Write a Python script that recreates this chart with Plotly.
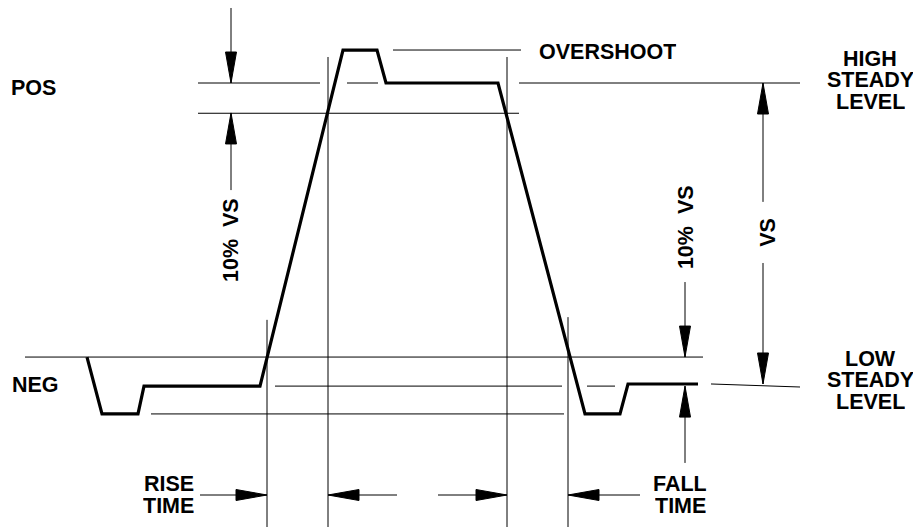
import plotly.graph_objects as go

# ---------------- data (time units, volts relative to low level; VS = 10) ----------------
# waveform
wave_t = [8.7, 10.2, 13.8, 14.4, 26.0, 34.3, 37.7, 38.6, 49.8, 58.5, 62.0, 62.8, 69.8]
wave_v = [0.94, -0.94, -0.94, -0.02, -0.02, 11.09, 11.09, 10.0, 10.0, -0.94, -0.94, 0.05, 0.05]

# horizontal reference segments: (t_start, t_end, level)
h_t0 = [2.5, 27.5, 58.7, 15.1, 39.3, 19.8, 34.7, 51.9, 19.8]
h_t1 = [70.3, 56.2, 61.5, 56.4, 52.1, 32.0, 37.8, 80.0, 51.9]
h_v = [0.94, -0.02, -0.02, -0.94, 11.09, 10.0, 10.0, 10.0, 9.0]
# slanted low-steady reference on the right
low_ref_t = [71.1, 80.0]
low_ref_v = [0.05, -0.05]

# vertical reference lines: (time, top, bottom)
v_t = [26.7, 32.8, 50.7, 56.8]
v_top = [2.17, 10.86, 10.86, 2.26]
v_bot = [-4.68, -4.68, -4.68, -4.68]

# dimension arrows: tail -> tip
arr_t0 = [23.1, 23.1, 68.5, 68.5, 76.3, 76.3, 20.0, 39.7, 43.8, 64.0]
arr_v0 = [12.48, 6.46, 3.42, -2.56, 6.07, 4.05, -3.62, -3.62, -3.62, -3.62]
arr_t1 = [23.1, 23.1, 68.5, 68.5, 76.3, 76.3, 26.7, 32.8, 50.7, 56.8]
arr_v1 = [10.0, 9.01, 0.94, -0.02, 10.0, 0.05, -3.62, -3.62, -3.62, -3.62]

# labels
lab_text = ["POS", "NEG", "OVERSHOOT", "HIGH", "STEADY", "LEVEL", "LOW", "STEADY", "LEVEL",
            "RISE", "TIME", "FALL", "TIME", "10%&nbsp; VS", "10%&nbsp; VS", "VS"]
lab_t = [3.35, 3.5, 60.75, 87.0, 87.0, 87.0, 87.0, 87.0, 87.0,
         16.85, 16.85, 68.0, 68.0, 23.1, 68.55, 76.8]
lab_v = [9.85, 0.0, 11.04, 10.81, 10.10, 9.37, 0.87, 0.18, -0.55,
         -3.26, -3.98, -3.26, -3.98, 4.81, 5.22, 5.05]
lab_angle = [0, 0, 0, 0, 0, 0, 0, 0, 0, 0, 0, 0, 0, -90, -90, -90]

# ---------------- figure ----------------
W, H = 913, 527
x_range = [0, 91.3]
y_range = [-4.678, 12.744]
px_x = W / (x_range[1] - x_range[0])
px_y = H / (y_range[1] - y_range[0])

fig = go.Figure()

thin = dict(color="black", width=1)
for a, b, v in zip(h_t0, h_t1, h_v):
    fig.add_trace(go.Scatter(x=[a, b], y=[v, v], mode="lines", line=thin, hoverinfo="skip"))
fig.add_trace(go.Scatter(x=low_ref_t, y=low_ref_v, mode="lines", line=thin, hoverinfo="skip"))
for t, a, b in zip(v_t, v_top, v_bot):
    fig.add_trace(go.Scatter(x=[t, t], y=[a, b], mode="lines", line=thin, hoverinfo="skip"))

head_len = 31.0   # px
head_half = 5.5   # px
for t0, v0, t1, v1 in zip(arr_t0, arr_v0, arr_t1, arr_v1):
    fig.add_trace(go.Scatter(x=[t0, t1], y=[v0, v1], mode="lines", line=thin, hoverinfo="skip"))
    dx = (t1 - t0) * px_x
    dy = (v1 - v0) * px_y
    L = (dx * dx + dy * dy) ** 0.5
    ux, uy = dx / L, dy / L
    bx, by = -ux * head_len, -uy * head_len
    nx, ny = -uy * head_half, ux * head_half
    xs = [t1, t1 + (bx + nx) / px_x, t1 + (bx - nx) / px_x, t1]
    ys = [v1, v1 + (by + ny) / px_y, v1 + (by - ny) / px_y, v1]
    fig.add_trace(go.Scatter(x=xs, y=ys, mode="lines", fill="toself", fillcolor="black",
                             line=dict(color="black", width=1), hoverinfo="skip"))

fig.add_trace(go.Scatter(x=wave_t, y=wave_v, mode="lines",
                         line=dict(color="black", width=3.2), hoverinfo="skip"))

for txt, t, v, ang in zip(lab_text, lab_t, lab_v, lab_angle):
    extra = {}
    if ang == 0:
        extra["height"] = 20
    fig.add_annotation(x=t, y=v, xref="x", yref="y", text=txt, showarrow=False,
                       textangle=ang, xanchor="center", yanchor="middle", borderpad=0,
                       font=dict(family="Liberation Sans, Arial, sans-serif", size=21.5,
                                 color="black", weight="bold"), **extra)

fig.update_layout(
    width=W, height=H,
    margin=dict(l=0, r=0, t=0, b=0),
    paper_bgcolor="white", plot_bgcolor="white",
    showlegend=False,
    xaxis=dict(range=x_range, visible=False, fixedrange=True),
    yaxis=dict(range=y_range, visible=False, fixedrange=True),
)

fig.write_html("out.html", config={"displayModeBar": False},
               post_script="document.body.style.margin='0px';")
